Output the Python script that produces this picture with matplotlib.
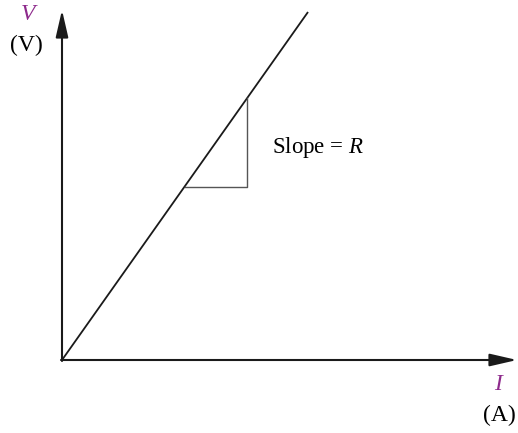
import matplotlib
matplotlib.use("Agg")
import matplotlib.pyplot as plt

plt.rcParams['font.family'] = ['Liberation Serif', 'DejaVu Serif']
plt.rcParams['mathtext.fontset'] = 'custom'
plt.rcParams['mathtext.rm'] = 'Liberation Serif'
plt.rcParams['mathtext.it'] = 'Liberation Serif:italic'

# V-I line and slope triangle (arbitrary units)
current = [0, 246]
voltage = [0, 348]
tri_current = [123, 185, 185]
tri_voltage = [173, 173, 262]

purple = '#8e2a8c'

fig = plt.figure(figsize=(5.18, 4.33), dpi=100)
ax = fig.add_axes([0, 0, 1, 1])
ax.set_xlim(-62, 456)
ax.set_ylim(-73, 360)
ax.axis('off')

# axes with arrows
arrow = dict(arrowstyle='-|>,head_length=1.65,head_width=0.38', mutation_scale=10,
             color='#1a1a1a', lw=1.5, shrinkA=0, shrinkB=0)
ax.annotate('', xy=(0, 350), xytext=(0, -1), arrowprops=arrow)
ax.annotate('', xy=(455, 0), xytext=(-1, 0), arrowprops=arrow)

ax.plot(current, voltage, color='#1a1a1a', lw=1.3, solid_capstyle='butt')
ax.plot(tri_current, tri_voltage, color='#555555', lw=1.0)

ax.text(210, 212, 'Slope = $R$', fontsize=16.5, va='center', ha='left')

ax.text(-34, 345, 'V', color=purple, fontsize=17, style='italic', ha='center', va='center')
ax.text(-36, 315, '(V)', fontsize=17, ha='center', va='center')
ax.text(436, -25, 'I', color=purple, fontsize=17, style='italic', ha='center', va='center')
ax.text(437, -55, '(A)', fontsize=17, ha='center', va='center')

fig.savefig('out.png', dpi=100)
